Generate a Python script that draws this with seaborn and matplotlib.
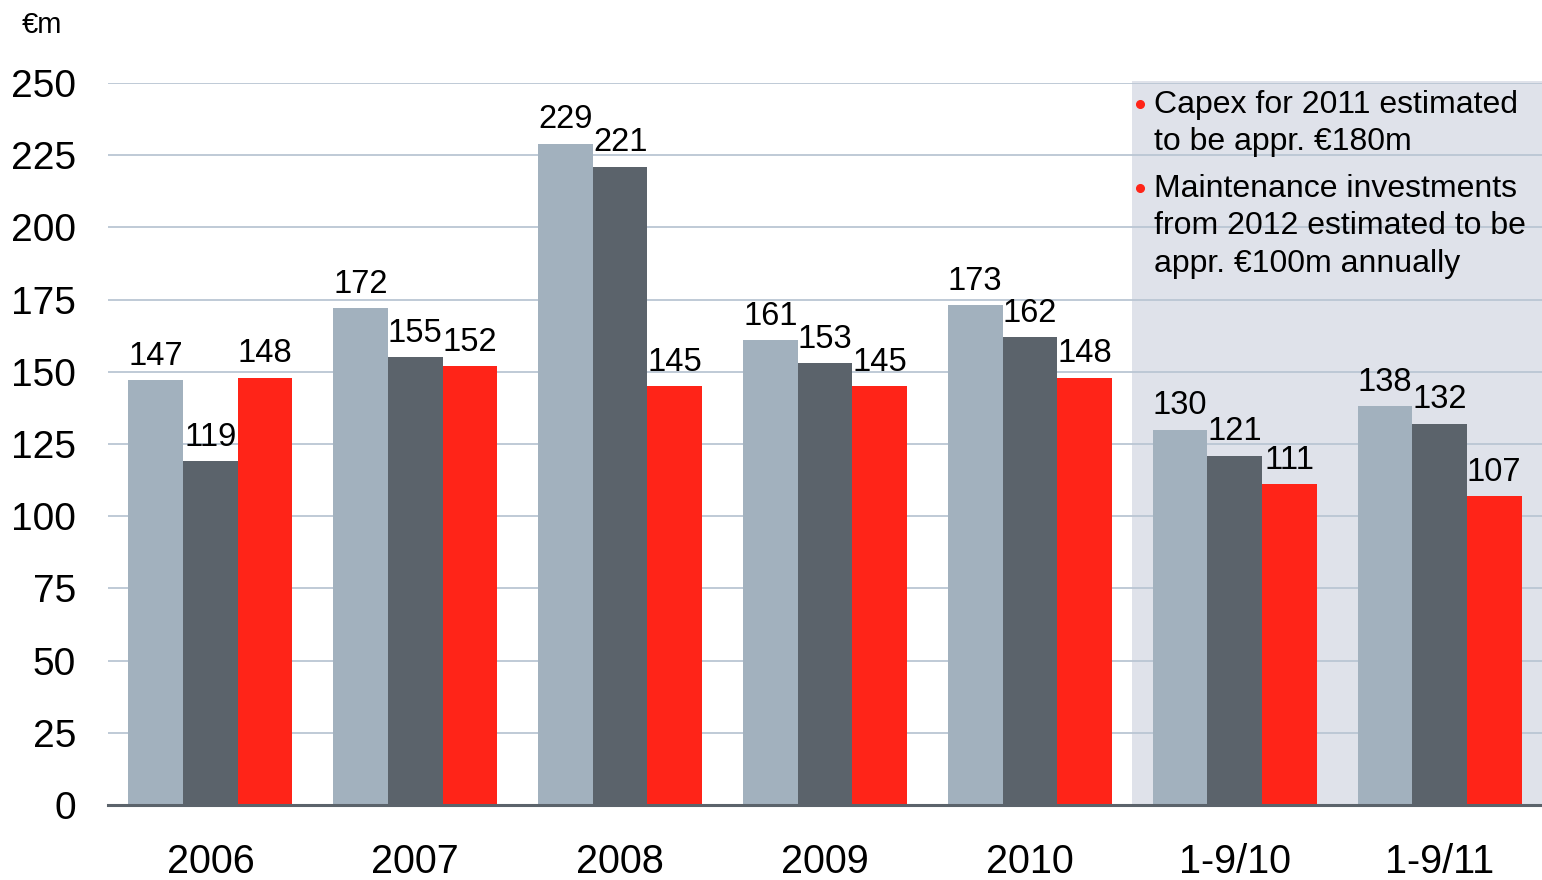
import matplotlib
matplotlib.use("Agg")
import matplotlib.pyplot as plt
from matplotlib.lines import Line2D
import pandas as pd
import seaborn as sns

# Capex data (€m)
periods = ["2006", "2007", "2008", "2009", "2010", "1-9/10", "1-9/11"]
series_names = ["Capex", "Depreciation", "Operating cash flow"]
capex = [147, 172, 229, 161, 173, 130, 138]
depreciation = [119, 155, 221, 153, 162, 121, 132]
cash_flow = [148, 152, 145, 145, 148, 111, 107]
y_ticks = [0, 25, 50, 75, 100, 125, 150, 175, 200, 225, 250]
notes = [
    "Capex for 2011 estimated\nto be appr. €180m",
    "Maintenance investments\nfrom 2012 estimated to be\nappr. €100m annually",
]

colors = ["#A2B1BE", "#5B636B", "#FF2418"]

df = pd.DataFrame({
    "period": periods * 3,
    "value": capex + depreciation + cash_flow,
    "series": [series_names[0]] * 7 + [series_names[1]] * 7 + [series_names[2]] * 7,
})

sns.set_style("white")
plt.rcParams["font.family"] = ["Liberation Sans", "DejaVu Sans"]
plt.rcParams["text.color"] = "black"
plt.rcParams["xtick.color"] = "black"
plt.rcParams["ytick.color"] = "black"

fig = plt.figure(figsize=(15.42, 8.8), dpi=100)
ax = fig.add_axes([108 / 1542, 75 / 880, 1 - 108 / 1542, (805 - 83) / 880])

# shaded panel behind the nine-month periods
ax.axvspan(4.5, 6.5, ymin=0, ymax=1.003, color="#DFE2EA", zorder=0, clip_on=False, lw=0)

sns.barplot(data=df, x="period", y="value", hue="series", order=periods,
            hue_order=series_names, palette=colors, saturation=1, width=0.8,
            gap=0, ax=ax, legend=False, zorder=3, edgecolor="none", linewidth=0)

for cont in ax.containers:
    ax.bar_label(cont, fmt="%d", padding=6, fontsize=23.5, color="black")

ax.set_xlim(-0.5, 6.5)
ax.set_ylim(0, 250)
ax.set_yticks(y_ticks)
ax.set_xlabel("")
ax.set_ylabel("")
ax.yaxis.grid(True, color="#BAC6D3", lw=1.3, zorder=1)
ax.set_axisbelow(True)
for s in ["top", "right", "left"]:
    ax.spines[s].set_visible(False)
ax.spines["bottom"].set_color("#5B636B")
ax.spines["bottom"].set_linewidth(2.2)
ax.spines["bottom"].set_zorder(5)
ax.tick_params(axis="y", length=0, pad=23, labelsize=28)
ax.tick_params(axis="x", length=0, pad=27, labelsize=28.5)

fig.text(22 / 1542, 1 - 33 / 880, "€m", fontsize=21, ha="left", va="baseline")

# bulleted notes
bx = 1140 / 1542
tx = 1154 / 1542
for top_px, dot_px, note in [(90, 104, notes[0]), (174, 188, notes[1])]:
    fig.add_artist(Line2D([bx], [1 - dot_px / 880], transform=fig.transFigure,
                          marker="o", ms=5.5, color="#FF2418", lw=0))
    fig.text(tx, 1 - top_px / 880, note, fontsize=23, ha="left", va="top",
             linespacing=1.32)

fig.savefig("out.png", dpi=100)
